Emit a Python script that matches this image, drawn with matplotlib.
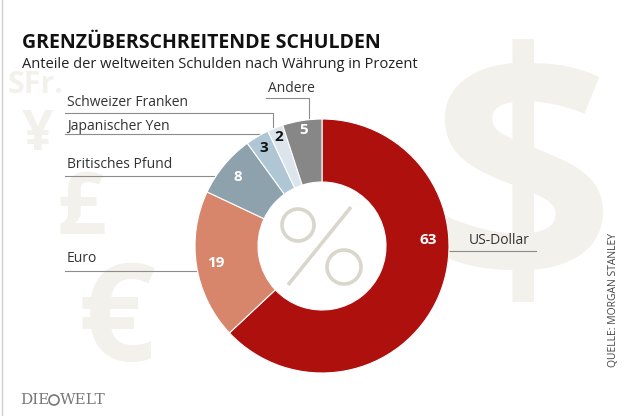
import numpy as np
import matplotlib.pyplot as plt
from matplotlib.patches import Circle

# ---------- DATA ----------
currencies = ["US-Dollar", "Euro", "Britisches Pfund", "Japanischer Yen",
              "Schweizer Franken", "Andere"]
shares = [63, 19, 8, 3, 2, 5]
colors = ["#AE100E", "#D7866B", "#8EA2AD", "#AFC7D5", "#DCE5EC", "#878787"]
num_colors = ["white", "white", "white", "#111111", "#111111", "white"]

W, H = 624, 416
CX, CY, R_OUT, R_IN = 322, 246, 127, 64


def Y(py):
    return H - py


plt.rcParams["font.family"] = ["Open Sans", "DejaVu Sans"]

fig = plt.figure(figsize=(W / 100, H / 100), dpi=100)
ax = fig.add_axes([0, 0, 1, 1])
fig.patch.set_facecolor("white")

# ---------- background currency symbols ----------
bg = "#F2F1EC"
ax.text(522, Y(200), "$", fontsize=232, fontweight="bold", color=bg,
        ha="center", va="center", zorder=0, clip_on=True)
ax.text(116, Y(326), "€", fontsize=98, fontweight="bold", color=bg,
        ha="center", va="center", zorder=0)
ax.text(81, Y(212), "£", fontsize=62, fontweight="bold", color=bg,
        ha="center", va="center", zorder=0)
ax.text(38, Y(136), "¥", fontsize=40, fontweight="bold", color=bg,
        ha="center", va="center", zorder=0)
ax.text(8, Y(85), "SFr.", fontsize=22, fontweight="bold", color=bg,
        ha="left", va="center", zorder=0)

# ---------- donut ----------
wedges, _ = ax.pie(shares, colors=colors, startangle=90, counterclock=False,
                   radius=R_OUT, center=(CX, Y(CY)),
                   wedgeprops=dict(width=R_OUT - R_IN, edgecolor="white",
                                   linewidth=0.8))
for w in wedges:
    w.set_zorder(2)

# thin percent sign in the hole
pc = "#D9D6CB"
ax.add_patch(Circle((298, Y(225)), 16, fill=False, ec=pc, lw=2.6, zorder=3))
ax.add_patch(Circle((344, Y(267)), 17, fill=False, ec=pc, lw=2.6, zorder=3))
ax.plot([351, 288], [Y(207), Y(285)], color=pc, lw=2.6, zorder=3,
        solid_capstyle="butt")

label_r = [106, 108, 109, 114, 117, 117]
for i, w in enumerate(wedges):
    ang = 3 if i == 0 else (w.theta1 + w.theta2) / 2
    a = np.deg2rad(ang)
    ax.text(CX + label_r[i] * np.cos(a), Y(CY) + label_r[i] * np.sin(a),
            str(shares[i]), fontsize=11, fontweight="bold",
            color=num_colors[i], ha="center", va="center", zorder=4)

# ---------- leader lines and labels ----------
lc = "#8C8C8C"
lk = dict(color=lc, lw=0.8, zorder=1)
ax.plot([449, 536], [Y(251), Y(251)], **lk)
ax.plot([65, 198], [Y(271), Y(271)], **lk)
ax.plot([65, 214], [Y(176), Y(176)], **lk)
ax.plot([65, 262], [Y(134), Y(134)], **lk)
ax.plot([65, 273, 273], [Y(113), Y(113), Y(128)], **lk)
ax.plot([266, 309, 309], [Y(98), Y(98), Y(120)], **lk)

tk = dict(fontsize=10, color="#333333", va="center", ha="left")
ax.text(469, Y(241), currencies[0], **tk)
ax.text(67, Y(259), currencies[1], **tk)
ax.text(67, Y(164), currencies[2], **tk)
ax.text(67, Y(127), currencies[3], **tk)
ax.text(67, Y(103), currencies[4], **tk)
ax.text(268, Y(89), currencies[5], **tk)

# ---------- titles ----------
ax.text(22, Y(43), "GRENZÜBERSCHREITENDE SCHULDEN", fontsize=14,
        fontweight="bold", color="#111111", ha="left", va="center")
ax.text(22, Y(64), "Anteile der weltweiten Schulden nach Währung in Prozent",
        fontsize=10.5, color="#222222", ha="left", va="center")

ax.text(613, Y(300), "QUELLE: MORGAN STANLEY", fontsize=7.5, color="#444444",
        rotation=90, ha="center", va="center")

# logo
ax.text(20, Y(400), "DIE", fontsize=11, family="DejaVu Serif",
        color="#777777", ha="left", va="center")
ax.add_patch(Circle((54, Y(400)), 5, fill=False, ec="#777777", lw=1.2))
ax.text(60, Y(400), "WELT", fontsize=11, family="DejaVu Serif",
        color="#777777", ha="left", va="center")

ax.plot([1.5, 1.5], [0, H], color="#CFCFCF", lw=1)

ax.set_xlim(0, W)
ax.set_ylim(0, H)
ax.set_aspect("equal")
ax.set_axis_off()

fig.savefig("out.png", dpi=100)
